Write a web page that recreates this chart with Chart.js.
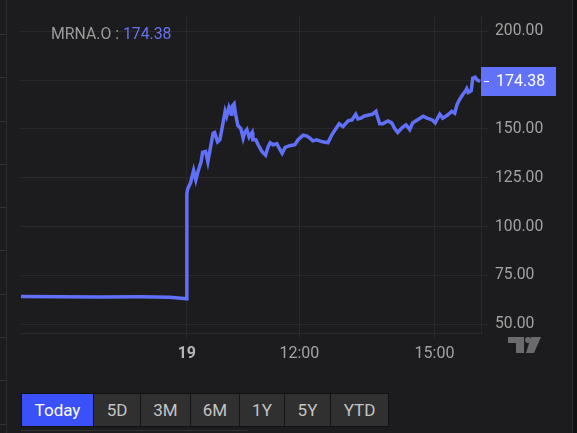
<!DOCTYPE html>
<html>
<head>
<meta charset="utf-8">
<script src="https://cdn.jsdelivr.net/npm/chart.js@4"></script>
<style>
  html, body { margin: 0; padding: 0; background: #1c1c1e; width: 577px; height: 433px; overflow: hidden; font-family: Roboto, "Open Sans", sans-serif; }
  #wrap { position: absolute; left: 0; top: 0; width: 572px; height: 390px; }
  #leftstrip { position: absolute; left: 0; top: 0; width: 6px; height: 433px; border-right: 1px solid #2b2b2d;
    background: repeating-linear-gradient(to bottom, transparent 0, transparent 34px, #333335 34px, #333335 35px, transparent 35px, transparent 43.3px); }
  #rightstrip { position: absolute; left: 572px; top: 0; width: 5px; height: 433px; background: #111112; border-left: 1px solid #2e2e30; }
  #title { position: absolute; left: 51px; top: 24px; font-size: 15.8px; color: #9c9c9c; }
  #title span { color: #6575f2; }
  #logo { position: absolute; left: 507px; top: 336px; }
  #ranges { position: absolute; left: 21px; top: 393px; display: flex; height: 34px; border: 1px solid #111; box-sizing: border-box; }
  #ranges div { height: 32px; line-height: 32px; text-align: center; font-size: 17px; color: #c4c4c4; background: #303031; border-left: 1px solid #141414; box-sizing: border-box; }
  #ranges div.on { background: #3a50f8; color: #fff; border-left: none; }
  #underline { position: absolute; left: 21px; top: 430px; width: 227px; height: 1px; background: #333336; }
</style>
</head>
<body>
<div id="leftstrip"></div>
<div id="wrap"><canvas id="chart" width="572" height="390"></canvas></div>
<div id="rightstrip"></div>
<div id="title">MRNA.O : <span>174.38</span></div>
<svg id="logo" width="36" height="18" viewBox="0 0 36 18">
  <path d="M1 1 H17 V17 H9 V7 H1 Z" fill="#6b6b6d"/>
  <circle cx="21" cy="4" r="3" fill="#6b6b6d"/>
  <path d="M24 1 H34 L27 17 H19 Z" fill="#6b6b6d"/>
</svg>
<div id="ranges">
  <div class="on" style="width:71px">Today</div>
  <div style="width:47px">5D</div>
  <div style="width:50px">3M</div>
  <div style="width:49px">6M</div>
  <div style="width:45px">1Y</div>
  <div style="width:46px">5Y</div>
  <div style="width:58px">YTD</div>
</div>
<div id="underline"></div>
<script>
// minutes relative to the 9:30 open of the 19th
const minutes = [-221, -169, -116, -63, -23, -4, -1,
  0, 1, 5, 8, 9, 12, 15, 19, 21, 25, 28, 31, 35, 37, 41, 44, 48, 51, 53, 56, 59, 60, 63, 65, 68, 72, 75, 77, 80, 83, 87, 88, 92, 95,
  100, 105, 108, 111, 115, 120, 124, 127, 131, 137, 144, 148, 155, 160, 164, 168, 173, 177, 181, 188, 193, 197, 203, 208, 215, 220,
  225, 228, 232, 236, 241, 247, 252, 253, 257, 261, 268, 273, 277, 281, 287, 292, 295, 297, 301, 307, 315, 320, 327, 331, 337, 341,
  347, 353, 357, 360, 363, 367, 371, 373, 375, 379, 381, 384, 387, 391];
const prices = [64.3, 64.2, 64.0, 64.1, 63.9, 63.3, 63.2,
  116.6, 119.1, 122.5, 127.3, 128.8, 123.9, 128.3, 133.2, 138.0, 138.5, 133.2, 139.5, 147.8, 148.2, 143.4, 144.4, 152.6, 159.0, 156.5, 160.9, 157.5, 161.4, 162.8, 157.5, 151.7, 150.2, 145.3, 148.2, 149.7, 145.8, 148.2, 144.4, 144.4, 141.9,
  138.5, 136.6, 140.5, 142.9, 141.9, 142.4, 139.5, 137.5, 140.5, 141.4, 141.9, 144.4, 146.8, 146.3, 145.3, 143.9, 144.4, 143.9, 143.4, 142.9, 146.8, 149.2, 152.6, 151.2, 154.1, 154.6,
  157.5, 155.1, 155.5, 156.5, 157.0, 157.5, 159.0, 157.5, 152.6, 152.6, 154.1, 153.1, 150.2, 148.2, 150.7, 152.1, 150.7, 149.7, 153.1, 154.6, 156.5, 155.5, 154.6, 153.1, 157.5, 155.5,
  157.0, 159.0, 158.0, 162.4, 164.8, 167.2, 169.2, 170.6, 168.7, 169.6, 176.0, 176.5, 175.0, 174.38];
const yTicks = [50, 75, 100, 125, 150, 175, 200];
const xTicks = [0, 150, 330];
const xTickLabels = ["19", "12:00", "15:00"];

const lineColor = "#6070f8";
const gridColor = "#29292c";
const fontFamily = "Roboto, 'Open Sans', sans-serif";

const priceTag = {
  id: "priceTag",
  afterDraw(chart) {
    const ctx = chart.ctx;
    const area = chart.chartArea;
    const last = prices[prices.length - 1];
    const y = Math.round(chart.scales.y.getPixelForValue(last));
    ctx.save();
    ctx.fillStyle = "#6272f8";
    ctx.fillRect(area.right, y - 14, 75, 29);
    ctx.fillStyle = "#ffffff";
    ctx.fillRect(area.right + 3, y, 5, 1);
    ctx.font = "16px " + fontFamily;
    ctx.textBaseline = "middle";
    ctx.fillText(last.toFixed(2), area.right + 15, y + 1);
    ctx.restore();
  }
};

new Chart(document.getElementById("chart"), {
  type: "line",
  data: {
    datasets: [{
      data: minutes.map((m, i) => ({ x: m, y: prices[i] })),
      borderColor: lineColor,
      borderWidth: 3.5,
      pointRadius: 0,
      tension: 0,
      fill: false
    }]
  },
  options: {
    responsive: false,
    animation: false,
    layout: { padding: { left: 21, top: 0, right: 0, bottom: 0 } },
    plugins: { legend: { display: false }, tooltip: { enabled: false } },
    scales: {
      x: {
        type: "linear",
        min: -221,
        max: 392,
        afterBuildTicks: (scale) => { scale.ticks = xTicks.map(v => ({ value: v })); },
        afterFit: (scale) => { scale.height = 57; },
        grid: { color: gridColor, tickLength: 5, tickColor: gridColor },
        border: { display: true, color: gridColor },
        ticks: {
          padding: 6,
          maxRotation: 0,
          color: (c) => c.tick && c.tick.value === 0 ? "#b4b4b4" : "#a2a2a2",
          font: (c) => c.tick && c.tick.value === 0
            ? { family: fontFamily, size: 16, weight: "bold" }
            : { family: fontFamily, size: 16 },
          callback: (v) => xTickLabels[xTicks.indexOf(v)]
        }
      },
      y: {
        position: "right",
        min: 45.62,
        max: 207.54,
        afterBuildTicks: (scale) => { scale.ticks = yTicks.map(v => ({ value: v })); },
        afterFit: (scale) => { scale.width = 91; },
        grid: { color: gridColor, tickLength: 7, tickColor: gridColor },
        border: { display: true, color: gridColor },
        ticks: {
          padding: 7,
          color: "#a2a2a2",
          font: { family: fontFamily, size: 15.7 },
          callback: (v) => v.toFixed(2)
        }
      }
    }
  },
  plugins: [priceTag]
});
</script>
</body>
</html>
